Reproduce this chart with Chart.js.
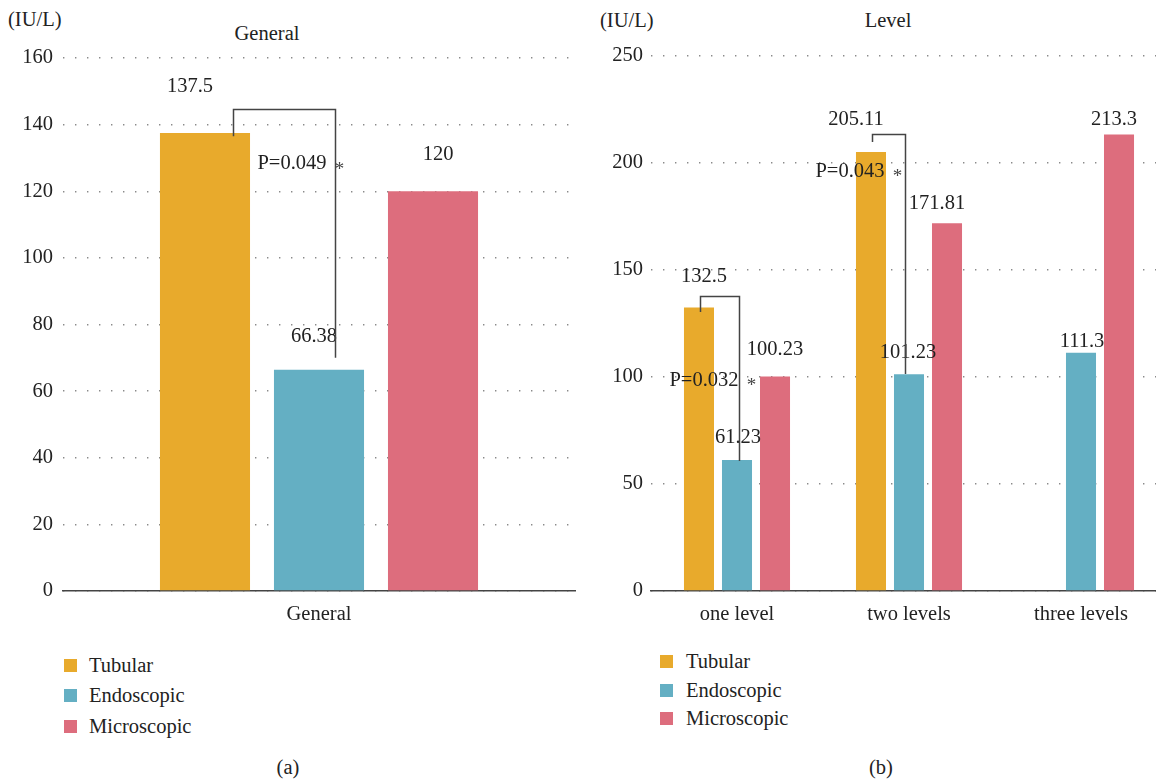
<!DOCTYPE html>
<html>
<head>
<meta charset="utf-8">
<script src="https://cdn.jsdelivr.net/npm/chart.js@4"></script>
<style>
  html, body { margin:0; padding:0; background:#fff; width:1156px; height:780px; overflow:hidden; }
  body { position:relative; font-family:'Liberation Serif', 'DejaVu Serif', serif; color:#222; }
  .t { position:absolute; font-family:'Liberation Serif', serif; font-size:20.5px; line-height:20px; white-space:nowrap; }
  .c { transform:translateX(-50%); }
  .sw { position:absolute; width:13px; height:13px; }
  canvas { position:absolute; }
</style>
</head>
<body>
<div class="t" style="left:8px;top:9px;">(IU/L)</div>
<div class="t c" style="left:267px;top:23px;">General</div>
<div class="t" style="left:600px;top:10px;">(IU/L)</div>
<div class="t c" style="left:888px;top:10px;">Level</div>

<div style="position:absolute;left:0;top:0;width:580px;height:640px;"><canvas id="ca" width="580" height="640"></canvas></div>
<div style="position:absolute;left:590px;top:0;width:600px;height:640px;"><canvas id="cb" width="600" height="640"></canvas></div>

<div id="legA"></div>
<div id="legB"></div>

<div class="t c" style="left:288px;top:757px;">(a)</div>
<div class="t c" style="left:881px;top:757px;">(b)</div>

<script>
// ---------- data ----------
const seriesNames = ["Tubular", "Endoscopic", "Microscopic"];
const seriesColors = ["#E8AA2C", "#64AFC3", "#DD6D7D"];

const catsA = ["General"];
const tubularA = [137.5];
const endoscopicA = [66.38];
const microscopicA = [120];
const ticksA = { min: 0, max: 160, step: 20 };

const catsB = ["one level", "two levels", "three levels"];
const tubularB = [132.5, 205.11, null];
const endoscopicB = [61.23, 101.23, 111.3];
const microscopicB = [100.23, 171.81, 213.3];
const ticksB = { min: 0, max: 250, step: 50 };

const pTextA = ["P=0.049"];
const pTextB = ["P=0.032", "P=0.043"];

// ---------- styling of annotations (pixel offsets) ----------
const labelOffA = [[[-15, -46]], [[-5, -33]], [[5, -37]]];
const labelOffB = [
  [[5, -31], [-15, -32], null],
  [[1, -22], [-1, -22], [1, -11]],
  [[0, -27], [-10, -20], [-5, -15]]
];
const bracketsA = [{ cat: 0, top: 144.7, lEnd: 136.5, rEnd: 70, dxL: 28, dxR: 16, tx: -9, tv: 128.2, text: pTextA[0] }];
const bracketsB = [
  { cat: 0, top: 137.9, lEnd: 130.4, rEnd: 60.7, dxL: 1, dxR: 2, tx: -1, tv: 98.5, text: pTextB[0] },
  { cat: 1, top: 213.5, lEnd: 209.8, rEnd: 101.4, dxL: 1, dxR: -4, tx: -21, tv: 196.2, text: pTextB[1] }
];

const FONT = "'Liberation Serif', serif";
const FS = 20.5;

function annotPlugin(offs, brackets) {
  return {
    id: 'annot',
    afterDatasetsDraw(chart) {
      const ctx = chart.ctx;
      const y = chart.scales.y;
      ctx.save();
      ctx.font = FS + 'px ' + FONT;
      ctx.fillStyle = '#222';
      ctx.textAlign = 'center';
      ctx.textBaseline = 'middle';
      chart.data.datasets.forEach((ds, di) => {
        const meta = chart.getDatasetMeta(di);
        meta.data.forEach((bar, ci) => {
          const v = ds.data[ci];
          if (v === null || v === undefined) return;
          const o = offs[di][ci];
          if (!o) return;
          ctx.fillText(String(v), bar.x + o[0], bar.y + o[1]);
        });
      });
      ctx.strokeStyle = '#444';
      ctx.lineWidth = 1.5;
      brackets.forEach(b => {
        const b0 = chart.getDatasetMeta(0).data[b.cat];
        const b1 = chart.getDatasetMeta(1).data[b.cat];
        const xl = Math.round(b0.x + b.dxL) + 0.5;
        const xr = Math.round(b1.x + b.dxR) + 0.5;
        const yt = Math.round(y.getPixelForValue(b.top)) + 0.5;
        ctx.beginPath();
        ctx.moveTo(xl, y.getPixelForValue(b.lEnd));
        ctx.lineTo(xl, yt);
        ctx.lineTo(xr, yt);
        ctx.lineTo(xr, y.getPixelForValue(b.rEnd));
        ctx.stroke();
        const ty = y.getPixelForValue(b.tv);
        ctx.textAlign = 'right';
        ctx.fillText(b.text, xr + b.tx, ty);
        ctx.textAlign = 'center';
        ctx.font = '19px ' + FONT;
        ctx.fillStyle = '#444';
        ctx.fillText('*', xr + b.tx + 13, ty + 6);
        ctx.fillStyle = '#222';
        ctx.font = FS + 'px ' + FONT;
      });
      ctx.restore();
    }
  };
}

function makeChart(id, cats, vals, tk, opts) {
  return new Chart(document.getElementById(id), {
    type: 'bar',
    data: {
      labels: cats,
      datasets: vals.map((d, i) => ({
        label: seriesNames[i],
        data: d,
        backgroundColor: seriesColors[i],
        borderWidth: 0,
        categoryPercentage: opts.catPct,
        barPercentage: opts.barPct
      }))
    },
    options: {
      responsive: false,
      animation: false,
      events: [],
      layout: { padding: { top: opts.top, right: opts.right, left: 0, bottom: 0 } },
      plugins: { legend: { display: false }, tooltip: { enabled: false }, title: { display: false } },
      scales: {
        x: {
          grid: { display: false, drawTicks: false },
          border: { display: true, color: '#444', width: 1.5 },
          ticks: { color: '#222', font: { family: FONT, size: FS }, padding: 11 },
          afterFit(s) { s.height = opts.xh; }
        },
        y: {
          min: tk.min, max: tk.max,
          grid: { color: '#8a8a8a', lineWidth: 1.4, drawTicks: false },
          border: { display: false, dash: [1.4, 10.6] },
          ticks: { stepSize: tk.step, color: '#222', font: { family: FONT, size: FS }, padding: opts.tpad },
          afterFit(s) { s.width = opts.yw; }
        }
      }
    },
    plugins: [opts.plugin]
  });
}

function build() {
  makeChart('ca', catsA, [tubularA, endoscopicA, microscopicA], ticksA, {
    top: 58, right: 5, xh: 49, yw: 63, tpad: 10, catPct: 0.668, barPct: 0.79,
    plugin: annotPlugin(labelOffA, bracketsA)
  });
  makeChart('cb', catsB, [tubularB, endoscopicB, microscopicB], ticksB, {
    top: 56, right: 23, xh: 49, yw: 61, tpad: 8, catPct: 0.663, barPct: 0.79,
    plugin: annotPlugin(labelOffB, bracketsB)
  });
}

function legend(el, x, tx, ys) {
  const c = document.getElementById(el);
  seriesNames.forEach((n, i) => {
    const s = document.createElement('div');
    s.className = 'sw';
    s.style.left = x + 'px';
    s.style.top = (ys[i] - 6.5) + 'px';
    s.style.background = seriesColors[i];
    c.appendChild(s);
    const t = document.createElement('div');
    t.className = 't';
    t.style.left = tx + 'px';
    t.style.top = (ys[i] - 10) + 'px';
    t.textContent = n;
    c.appendChild(t);
  });
}
legend('legA', 64, 89, [665, 695, 726]);
legend('legB', 660, 686, [661, 690, 718]);

if (document.fonts && document.fonts.load) {
  document.fonts.load(FS + "px 'Liberation Serif'").then(build, build);
} else { build(); }
</script>
</body>
</html>
